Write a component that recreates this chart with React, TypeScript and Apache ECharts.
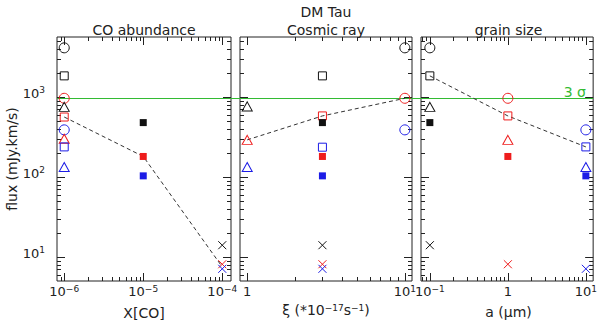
import React, { useEffect, useRef } from 'react';
import * as echarts from 'echarts';

const FONT = '"DejaVu Sans", "Liberation Sans", sans-serif';
const INK = '#222';
const GREEN = '#33bb33';

// ---- axis ranges ----
const coRange = [8.1e-7, 1.29e-4];
const crRange = [0.9, 11.1];
const gsRange = [0.077, 12.4];
const fluxRange = [5, 5600];
const sigma3 = 960;

// ---- titles ----
const mainTitle = 'DM Tau';
const panelTitles = ['CO abundance', 'Cosmic ray', 'grain size'];

// ---- data: [x, flux, marker, model] ----
const coPoints: [number, number, string, string][] = [
  [1e-6, 4100, 'circle', 'k'],
  [1e-6, 1830, 'square', 'k'],
  [1e-6, 960, 'circle', 'r'],
  [1e-6, 750, 'triangle', 'k'],
  [1e-6, 560, 'square', 'r'],
  [1e-6, 387, 'circle', 'b'],
  [1e-6, 300, 'triangle', 'r'],
  [1e-6, 237, 'square', 'b'],
  [1e-6, 133, 'triangle', 'b'],
  [1e-5, 477, 'filled', 'k'],
  [1e-5, 180, 'filled', 'r'],
  [1e-5, 103, 'filled', 'b'],
  [1e-4, 14, 'cross', 'k'],
  [1e-4, 8.1, 'cross', 'r'],
  [1e-4, 7.1, 'cross', 'b'],
];
const coDashed = [[1e-6, 560], [1e-5, 180], [1e-4, 7.5]];

const crPoints: [number, number, string, string][] = [
  [1, 760, 'triangle', 'k'],
  [1, 290, 'triangle', 'r'],
  [1, 133, 'triangle', 'b'],
  [3, 1830, 'square', 'k'],
  [3, 578, 'square', 'r'],
  [3, 477, 'filled', 'k'],
  [3, 235, 'square', 'b'],
  [3, 180, 'filled', 'r'],
  [3, 103, 'filled', 'b'],
  [3, 14, 'cross', 'k'],
  [3, 8.1, 'cross', 'r'],
  [3, 7.1, 'cross', 'b'],
  [10, 4100, 'circle', 'k'],
  [10, 960, 'circle', 'r'],
  [10, 387, 'circle', 'b'],
];
const crDashed = [[1, 290], [3, 578], [10, 960]];

const gsPoints: [number, number, string, string][] = [
  [0.1, 4100, 'circle', 'k'],
  [0.1, 1830, 'square', 'k'],
  [0.1, 750, 'triangle', 'k'],
  [0.1, 477, 'filled', 'k'],
  [0.1, 14, 'cross', 'k'],
  [1, 960, 'circle', 'r'],
  [1, 578, 'square', 'r'],
  [1, 290, 'triangle', 'r'],
  [1, 180, 'filled', 'r'],
  [1, 8.1, 'cross', 'r'],
  [10, 387, 'circle', 'b'],
  [10, 237, 'square', 'b'],
  [10, 133, 'triangle', 'b'],
  [10, 103, 'filled', 'b'],
  [10, 7.1, 'cross', 'b'],
];
const gsDashed = [[0.1, 1830], [1, 578], [10, 237]];

// ---- styling ----
const modelColors: Record<string, string> = { k: '#111111', r: '#ee1c1c', b: '#1c1ce6' };
const markerDefs: Record<string, { symbol: string; size: any; filled: boolean }> = {
  circle: { symbol: 'circle', size: 10, filled: false },
  square: { symbol: 'rect', size: 8, filled: false },
  triangle: { symbol: 'triangle', size: [10, 9], filled: false },
  filled: { symbol: 'rect', size: 7, filled: true },
  cross: { symbol: 'path://M0,0L10,10M10,0L0,10', size: 8, filled: false },
};

const layouts = [
  { left: 57, width: 174 },
  { left: 240, width: 172 },
  { left: 421, width: 175 },
];
const TOP = 37;
const HEIGHT = 244;

const panels = [
  { range: coRange, points: coPoints, dashed: coDashed },
  { range: crRange, points: crPoints, dashed: crDashed },
  { range: gsRange, points: gsPoints, dashed: gsDashed },
];

function logTicks(min: number, max: number) {
  const out: { v: number; major: boolean }[] = [];
  const e0 = Math.floor(Math.log10(min));
  const e1 = Math.ceil(Math.log10(max));
  for (let e = e0; e <= e1; e++) {
    for (let m = 1; m <= 9; m++) {
      const v = m * Math.pow(10, e);
      if (v > min * 1.0001 && v < max * 0.9999) out.push({ v, major: m === 1 });
    }
  }
  return out;
}

function powLabel(v: number) {
  const l = Math.log10(v);
  const e = Math.round(l);
  if (Math.abs(l - e) > 1e-6) return '';
  if (e === 0) return '{b|1}';
  return `{b|10}{s|${e < 0 ? '\u2212' : ''}${Math.abs(e)}}`;
}

const labelRich = {
  b: { fontSize: 13, fontFamily: FONT, color: INK, lineHeight: 14, padding: [5, 0, 0, 0], verticalAlign: 'bottom' },
  s: { fontSize: 9, fontFamily: FONT, color: INK, lineHeight: 10, verticalAlign: 'top' },
};

function tickRender(params: any, api: any) {
  const cs = params.coordSys;
  const kind = api.value(2);
  const p = api.coord([api.value(0), api.value(1)]);
  const style = { stroke: INK, lineWidth: 1 };
  if (kind < 2) {
    const len = kind === 0 ? 8 : 4;
    const x = Math.round(p[0]) + 0.5;
    const yb = cs.y + cs.height;
    const yt = cs.y;
    return {
      type: 'group',
      children: [
        { type: 'line', shape: { x1: x, y1: yb, x2: x, y2: yb - len }, style },
        { type: 'line', shape: { x1: x, y1: yt, x2: x, y2: yt + len }, style },
      ],
    };
  }
  const len = kind === 2 ? 8 : 4;
  const y = Math.round(p[1]) + 0.5;
  const xl = cs.x;
  const xr = cs.x + cs.width;
  return {
    type: 'group',
    children: [
      { type: 'line', shape: { x1: xl, y1: y, x2: xl + len, y2: y }, style },
      { type: 'line', shape: { x1: xr, y1: y, x2: xr - len, y2: y }, style },
    ],
  };
}

function buildOption() {
  const grid: any[] = [];
  const xAxis: any[] = [];
  const yAxis: any[] = [];
  const series: any[] = [];
  panels.forEach((pn, g) => {
    grid.push({
      left: layouts[g].left,
      top: TOP,
      width: layouts[g].width,
      height: HEIGHT,
      show: true,
      borderColor: INK,
      borderWidth: 1,
      backgroundColor: 'transparent',
    });
    xAxis.push({
      type: 'log',
      gridIndex: g,
      min: pn.range[0],
      max: pn.range[1],
      axisLine: { show: false },
      axisTick: { show: false },
      splitLine: { show: false },
      axisLabel: { show: true, margin: 3, interval: 0, formatter: powLabel, rich: labelRich },
    });
    yAxis.push({
      type: 'log',
      gridIndex: g,
      min: fluxRange[0],
      max: fluxRange[1],
      axisLine: { show: false },
      axisTick: { show: false },
      splitLine: { show: false },
      axisLabel: {
        show: g === 0,
        margin: 12,
        interval: 0,
        padding: [0, 0, 8, 0],
        formatter: powLabel,
        rich: labelRich,
      },
    });
    // ticks
    const tickData: number[][] = [];
    logTicks(pn.range[0], pn.range[1]).forEach((t) => tickData.push([t.v, fluxRange[0], t.major ? 0 : 1]));
    logTicks(fluxRange[0], fluxRange[1]).forEach((t) => tickData.push([pn.range[0], t.v, t.major ? 2 : 3]));
    series.push({
      type: 'custom',
      xAxisIndex: g,
      yAxisIndex: g,
      silent: true,
      clip: false,
      dimensions: ['x', 'y', 'k'],
      encode: { x: 0, y: 1 },
      data: tickData,
      renderItem: tickRender,
      z: 1,
    });
    // dashed model line
    series.push({
      type: 'line',
      xAxisIndex: g,
      yAxisIndex: g,
      data: pn.dashed,
      symbol: 'none',
      silent: true,
      lineStyle: { color: '#333', width: 1, type: [4, 3] },
      z: 2,
    });
    // markers grouped by marker+model
    const groups: Record<string, number[][]> = {};
    pn.points.forEach(([x, y, m, c]) => {
      const key = m + '|' + c;
      (groups[key] = groups[key] || []).push([x, y]);
    });
    Object.keys(groups).forEach((key) => {
      const [m, c] = key.split('|');
      const def = markerDefs[m];
      const col = modelColors[c];
      series.push({
        type: 'scatter',
        xAxisIndex: g,
        yAxisIndex: g,
        data: groups[key],
        symbol: def.symbol,
        symbolSize: def.size,
        silent: true,
        itemStyle: {
          color: def.filled ? col : 'rgba(0,0,0,0)',
          borderColor: col,
          borderWidth: def.filled ? 0 : 1,
          opacity: 1,
        },
        z: 3,
      });
    });
  });
  return { animation: false, grid, xAxis, yAxis, series };
}

function txt(x: number, y: number, text: string, opts: any = {}) {
  const style: any = {
    text,
    fontSize: opts.fontSize || 14,
    fontFamily: FONT,
    fill: opts.fill || INK,
    align: opts.align || 'center',
    verticalAlign: 'middle',
    textAlign: opts.align || 'center',
    textVerticalAlign: 'middle',
  };
  if (opts.rich) style.rich = opts.rich;
  return { type: 'text', x, y, rotation: opts.rotation || 0, silent: true, z: 5, style };
}

const nameRich = {
  n: { fontSize: 14, fontFamily: FONT, fill: INK, lineHeight: 14, padding: [5, 0, 0, 0], verticalAlign: 'bottom' },
  s: { fontSize: 9, fontFamily: FONT, fill: INK, lineHeight: 10, verticalAlign: 'top' },
};

function buildGraphic(pA: number[], pB: number[]) {
  const gy = Math.round(pA[1]) + 0.5;
  const centers = layouts.map((l) => l.left + l.width / 2);
  return [
    {
      type: 'line',
      silent: true,
      z: 1,
      shape: { x1: pA[0], y1: gy, x2: pB[0], y2: gy },
      style: { stroke: GREEN, lineWidth: 1 },
    },
    txt(586, gy - 7, '3 \u03c3', { fill: GREEN, align: 'right', fontSize: 14 }),
    txt(centers[1], 11.7, mainTitle),
    txt(centers[0], 29.5, panelTitles[0]),
    txt(centers[1], 29.5, panelTitles[1]),
    txt(centers[2], 29.5, panelTitles[2]),
    txt(11.5, 159, 'flux (mJy.km/s)', { rotation: Math.PI / 2 }),
    txt(centers[0], 312.5, 'X[CO]'),
    txt(centers[1], 310, '{n|\u03be (*10}{s|\u221217}{n|s}{s|\u22121}{n|)}', { rich: nameRich }),
    txt(centers[2], 311.5, 'a (\u03bcm)'),
  ];
}

export default function App() {
  const ref = useRef<HTMLDivElement>(null);
  useEffect(() => {
    const chart = echarts.init(ref.current!, null, { renderer: 'svg' });
    chart.setOption(buildOption() as any);
    const pA = chart.convertToPixel({ xAxisIndex: 0, yAxisIndex: 0 } as any, [coRange[0], sigma3]) as number[];
    const pB = chart.convertToPixel({ xAxisIndex: 2, yAxisIndex: 2 } as any, [gsRange[1], sigma3]) as number[];
    chart.setOption({ graphic: buildGraphic(pA, pB) } as any);
    return () => chart.dispose();
  }, []);
  return (
    <div
      ref={ref}
      style={{ position: 'fixed', left: 0, top: 0, width: 600, height: 322, background: '#fff' }}
    />
  );
}
